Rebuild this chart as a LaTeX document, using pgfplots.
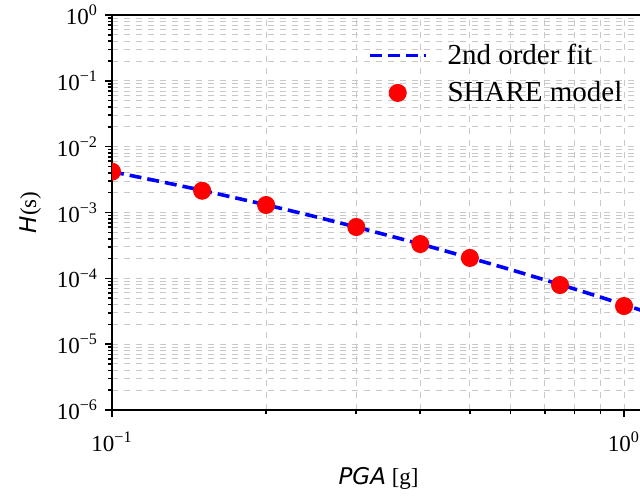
\documentclass[border=0pt]{standalone}
\usepackage{fontspec}
\setmainfont{Liberation Serif}
\newfontfamily\dv{DejaVu Sans}
\usepackage{pgfplots}
\pgfplotsset{compat=1.18}
\definecolor{gridc}{RGB}{200,200,200}
\pgfplotsset{
  lineleg/.style={legend image code/.code={\draw[##1] (0pt,0pt) -- (28pt,0pt); \path (36pt,0pt);}},
  markleg/.style={legend image code/.code={\draw[##1] plot coordinates {(14pt,0pt)}; \path (0pt,0pt) (36pt,0pt);}},
}
\begin{document}
\begin{tikzpicture}
\begin{axis}[
  scale only axis,
  width=266.6pt, height=197.5pt,
  xmode=log, ymode=log,
  xmin=0.1, xmax=1.1, ymin=1e-6, ymax=1,
  axis line style={line width=1pt},
  tick align=outside,
  tick style={black, line width=0.8pt},
  major tick length=3.5pt, minor tick length=2pt,
  xtick={0.1,1}, xticklabels={10\textsuperscript{−1},10\textsuperscript{0}},
  ytick={1e-6,1e-5,1e-4,1e-3,1e-2,1e-1,1},
  yticklabels={10\textsuperscript{−6},10\textsuperscript{−5},10\textsuperscript{−4},10\textsuperscript{−3},10\textsuperscript{−2},10\textsuperscript{−1},10\textsuperscript{0}},
  ticklabel style={font=\fontsize{11.5}{12}\selectfont},
  xticklabel style={yshift=-4pt},
  xtick pos=bottom, ytick pos=left,
  grid=both,
  major grid style={gridc, dashed, line width=0.5pt},
  minor grid style={gridc, dashed, line width=0.5pt},
  xlabel={{\dv\itshape PGA} [g]},
  ylabel={{\dv\itshape H}(s)},
  label style={font=\fontsize{11.5}{13}\selectfont},
  xlabel style={yshift=-1pt},
  ylabel style={yshift=1pt},
  legend style={draw=none, fill=none, at={(0.468,0.948)}, anchor=north west,
    font=\fontsize{14.5}{17}\selectfont, row sep=3pt},
  legend cell align=left,
  clip=true,
]
\addplot[blue, line width=1.8pt, dash pattern=on 6pt off 3pt, lineleg] coordinates {
(0.1,4.17e-3) (0.125,2.93e-3) (0.15,2.17e-3) (0.2,1.31e-3) (0.25,8.61e-4)
(0.3,6.02e-4) (0.4,3.33e-4) (0.5,2.05e-4) (0.6,1.36e-4) (0.75,8.07e-5)
(0.9,5.18e-5) (1.0,3.98e-5) (1.1,3.13e-5)};
\addlegendentry{2nd order fit}
\addplot[only marks, mark=*, mark size=4.3pt, color=red, fill=red, clip mode=individual, markleg] coordinates {
(0.1,4.17e-3) (0.15,2.14e-3) (0.2,1.30e-3) (0.3,6.02e-4) (0.4,3.32e-4)
(0.5,2.04e-4) (0.75,7.92e-5) (1.0,3.80e-5)};
\addlegendentry{SHARE model}
\end{axis}
\pgfresetboundingbox
\useasboundingbox (-56pt,-44.5pt) rectangle (264pt,205pt);
\end{tikzpicture}
\end{document}
